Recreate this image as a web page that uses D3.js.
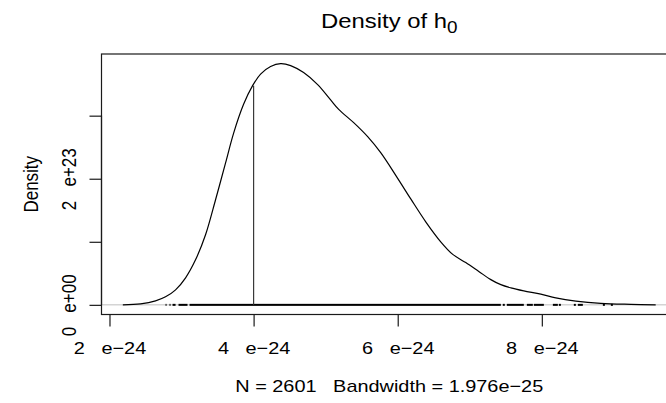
<!DOCTYPE html>
<html>
<head>
<meta charset="utf-8">
<script src="https://cdn.jsdelivr.net/npm/d3@7"></script>
<style>
  body { margin: 0; background: #fff; }
  text { font-family: "Liberation Sans", Arial, Helvetica, sans-serif; white-space: pre; }
</style>
</head>
<body>
<div id="chart"></div>
<script>
// density estimate (x in units of 1e-24, y in units of 1e23)
var curveX = [2.185, 2.431, 2.639, 2.778, 2.917, 3.056, 3.194, 3.333, 3.472, 3.611, 3.722, 3.861,
              3.986, 4.097, 4.236, 4.375, 4.514, 4.694, 4.889, 5.069, 5.181, 5.389, 5.583, 5.764,
              5.986, 6.181, 6.389, 6.597, 6.764, 6.944, 7.125, 7.292, 7.431, 7.569, 7.750, 7.986,
              8.194, 8.472, 8.819, 9.236, 9.580];
var curveY = [0.000, 0.016, 0.063, 0.127, 0.238, 0.429, 0.714, 1.111, 1.667, 2.250, 2.720, 3.180,
              3.476, 3.660, 3.780, 3.825, 3.794, 3.683, 3.492, 3.250, 3.100, 2.889, 2.667, 2.413,
              2.030, 1.680, 1.317, 1.000, 0.800, 0.670, 0.530, 0.400, 0.320, 0.270, 0.222, 0.170,
              0.111, 0.060, 0.024, 0.008, 0.000];

// rug of observations, drawn as runs (start, end) in units of 1e-24
var rugStart = [2.778, 2.833, 2.875, 2.958, 3.111, 7.458, 7.514, 7.792, 7.889, 8.153, 8.236, 8.444, 8.500, 8.847, 8.958];
var rugEnd   = [2.790, 2.847, 2.917, 3.083, 7.431, 7.486, 7.750, 7.875, 8.028, 8.222, 8.264, 8.472, 8.569, 8.875, 8.986];

// reference line
var markX = 4.0;
var markY = 3.476;

var xTicks = [2, 4, 6, 8];
var xTickLabels = ["2   e\u221224", "4   e\u221224", "6   e\u221224", "8   e\u221224"];
var yTicks = [0, 1, 2, 3];
var yTickLabels = ["0   e+00", "", "2   e+23", ""];

var titleText = "Density of h";
var titleSub = "0";
var xLabel = "N = 2601   Bandwidth = 1.976e\u221225";
var yLabel = "Density";

var W = 666, H = 403;
var plot = {left: 101.5, right: 677, top: 54, bottom: 314.5};
var stretch = "scale(1.17,1)";
var fs = 17;

// R style 4% range extension
function extend(ext) {
    var d = (ext[1] - ext[0]) * 0.04;
    return [ext[0] - d, ext[1] + d];
}

var xScale = d3.scaleLinear()
    .domain(extend(d3.extent(curveX)))
    .range([plot.left, plot.right]);
var yScale = d3.scaleLinear()
    .domain(extend([0, d3.max(curveY)]))
    .range([plot.bottom, plot.top]);

var svg = d3.select("#chart").append("svg")
    .attr("width", W)
    .attr("height", H)
    .style("display", "block");

svg.append("rect").attr("width", W).attr("height", H).attr("fill", "#fff");

// zero line
svg.append("line")
    .attr("x1", plot.left).attr("x2", plot.right)
    .attr("y1", yScale(0)).attr("y2", yScale(0))
    .attr("stroke", "#bebebe")
    .attr("stroke-width", 1);

// rug
svg.selectAll(".rug")
    .data(rugStart)
    .enter().append("rect")
    .attr("class", "rug")
    .attr("x", function(d) { return xScale(d); })
    .attr("width", function(d, i) { return Math.max(1, xScale(rugEnd[i]) - xScale(d)); })
    .attr("y", yScale(0) - 1)
    .attr("height", 2)
    .attr("fill", "#000");

// vertical mark
svg.append("line")
    .attr("x1", xScale(markX)).attr("x2", xScale(markX))
    .attr("y1", yScale(0)).attr("y2", yScale(markY))
    .attr("stroke", "#3a3a3a")
    .attr("stroke-width", 1.2);

var line = d3.line()
    .x(function(d, i) { return xScale(curveX[i]); })
    .y(function(d) { return yScale(d); })
    .curve(d3.curveCatmullRom.alpha(0.5));

svg.append("path")
    .datum(curveY)
    .attr("d", line)
    .attr("fill", "none")
    .attr("stroke", "#000")
    .attr("stroke-width", 1.2);

// box
svg.append("rect")
    .attr("x", plot.left).attr("y", plot.top)
    .attr("width", plot.right - plot.left)
    .attr("height", plot.bottom - plot.top)
    .attr("fill", "none")
    .attr("stroke", "#1a1a1a")
    .attr("stroke-width", 1.2);

// x axis
var gx = svg.append("g")
    .attr("transform", "translate(0," + plot.bottom + ")")
    .call(d3.axisBottom(xScale)
        .tickValues(xTicks)
        .tickSize(12)
        .tickFormat(function(d, i) { return xTickLabels[i]; }));
gx.select(".domain").remove();
gx.append("line")
    .attr("x1", xScale(xTicks[0])).attr("x2", xScale(xTicks[xTicks.length - 1]))
    .attr("stroke", "#1a1a1a").attr("stroke-width", 1.2);
gx.selectAll(".tick line").attr("stroke", "#1a1a1a").attr("stroke-width", 1.2);
gx.selectAll(".tick text")
    .attr("y", 0).attr("dy", null)
    .attr("transform", "translate(0,39.5) " + stretch)
    .attr("font-size", fs)
    .attr("font-family", null)
    .attr("fill", "#000");

// y axis
var gy = svg.append("g")
    .attr("transform", "translate(" + plot.left + ",0)")
    .call(d3.axisLeft(yScale)
        .tickValues(yTicks)
        .tickSize(12)
        .tickFormat(function(d, i) { return yTickLabels[i]; }));
gy.select(".domain").remove();
gy.append("line")
    .attr("y1", yScale(yTicks[0])).attr("y2", yScale(yTicks[yTicks.length - 1]))
    .attr("stroke", "#1a1a1a").attr("stroke-width", 1.2);
gy.selectAll(".tick line").attr("stroke", "#1a1a1a").attr("stroke-width", 1.2);
gy.selectAll(".tick text")
    .attr("x", 0).attr("dy", null)
    .attr("text-anchor", "middle")
    .attr("transform", "translate(-25.5,0) " + stretch + " rotate(-90)")
    .attr("font-size", fs)
    .attr("font-family", null)
    .attr("fill", "#000");

var midX = (plot.left + plot.right) / 2;
var midY = (plot.top + plot.bottom) / 2;

// title
var t = svg.append("text")
    .attr("text-anchor", "middle")
    .attr("transform", "translate(" + midX + ",28) " + stretch)
    .attr("font-size", fs * 1.2);
t.append("tspan").text(titleText);
t.append("tspan").attr("dy", 5).attr("font-size", fs * 0.95).text(titleSub);

// x label
svg.append("text")
    .attr("text-anchor", "middle")
    .attr("transform", "translate(" + midX + ",392) " + stretch)
    .attr("font-size", fs)
    .text(xLabel);

// y label
svg.append("text")
    .attr("text-anchor", "middle")
    .attr("transform", "translate(38," + midY + ") " + stretch + " rotate(-90)")
    .attr("font-size", fs)
    .text(yLabel);
</script>
</body>
</html>
